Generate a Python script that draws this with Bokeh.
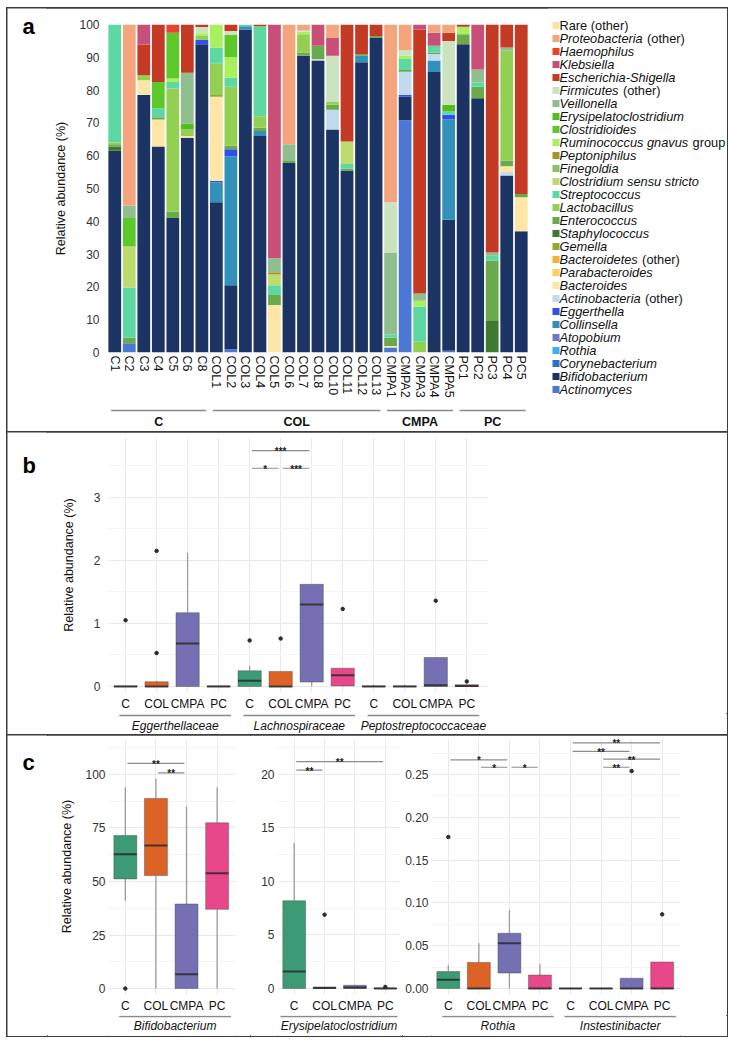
from bokeh.plotting import figure
from bokeh.models import ColumnDataSource, Range1d, FixedTicker, NumeralTickFormatter, Spacer
from bokeh.layouts import row, column
from bokeh.core.properties import value
from bokeh.embed import file_html
from bokeh.resources import INLINE

FONT = "Liberation Sans"
TXT = "#111111"

# ---------------- panel a data ----------------
samples = ["C1", "C2", "C3", "C4", "C5", "C6", "C8",
           "COL1", "COL2", "COL3", "COL4", "COL5", "COL6", "COL7", "COL8", "COL10", "COL11", "COL12", "COL13",
           "CMPA1", "CMPA2", "CMPA3", "CMPA4", "CMPA5",
           "PC1", "PC2", "PC3", "PC4", "PC5"]
sample_group = ["C"] * 7 + ["COL"] * 12 + ["CMPA"] * 5 + ["PC"] * 5
groups = ["C", "COL", "CMPA", "PC"]

taxa = ["Rare (other)", "Proteobacteria (other)", "Haemophilus", "Klebsiella", "Escherichia-Shigella",
        "Firmicutes (other)", "Veillonella", "Erysipelatoclostridium", "Clostridioides",
        "Ruminococcus gnavus group", "Peptoniphilus", "Finegoldia", "Clostridium sensu stricto",
        "Streptococcus", "Lactobacillus", "Enterococcus", "Staphylococcus", "Gemella",
        "Bacteroidetes (other)", "Parabacteroides", "Bacteroides", "Actinobacteria (other)",
        "Eggerthella", "Collinsella", "Atopobium", "Rothia", "Corynebacterium",
        "Bifidobacterium", "Actinomyces"]
taxa_colors = ["#FCE49A", "#F4A57E", "#E8432D", "#C94F78", "#C43A24",
               "#CCE3BF", "#8FBF8F", "#52BE1E", "#5CC82A",
               "#A9F05F", "#A99327", "#8CBE6E", "#BEDC6E",
               "#5ED8A2", "#93CF52", "#6BAA4B", "#3F7A33", "#93AA2C",
               "#F3B235", "#F8D05E", "#FEE7A6", "#C2DAEE",
               "#3050EE", "#3390B8", "#6C78CF", "#3CAEEB", "#2A72BF",
               "#1C3464", "#4A78D4"]

composition = {
    "C1": {"Bifidobacterium": 61.5, "Staphylococcus": 1.2, "Enterococcus": 0.8, "Lactobacillus": 0.5, "Streptococcus": 36.0},
    "C2": {"Actinomyces": 2.8, "Enterococcus": 1.7, "Streptococcus": 15.3, "Clostridium sensu stricto": 12.5, "Clostridioides": 8.7, "Veillonella": 3.8, "Proteobacteria (other)": 55.2},
    "C3": {"Bifidobacterium": 78.5, "Bacteroides": 4.5, "Lactobacillus": 1.5, "Escherichia-Shigella": 9.4, "Klebsiella": 6.1},
    "C4": {"Bifidobacterium": 62.8, "Bacteroides": 8.2, "Enterococcus": 0.7, "Streptococcus": 2.8, "Clostridioides": 8.0, "Escherichia-Shigella": 17.5},
    "C5": {"Bifidobacterium": 41.0, "Enterococcus": 2.0, "Lactobacillus": 37.5, "Streptococcus": 2.0, "Ruminococcus gnavus group": 1.0, "Clostridioides": 14.0, "Haemophilus": 2.5},
    "C6": {"Bifidobacterium": 65.5, "Bacteroides": 0.5, "Lactobacillus": 2.0, "Erysipelatoclostridium": 1.8, "Veillonella": 15.5, "Escherichia-Shigella": 14.7},
    "C8": {"Bifidobacterium": 94.0, "Eggerthella": 1.3, "Lactobacillus": 1.2, "Ruminococcus gnavus group": 0.8, "Firmicutes (other)": 1.9, "Escherichia-Shigella": 0.8},
    "COL1": {"Bifidobacterium": 45.8, "Collinsella": 6.0, "Eggerthella": 0.5, "Bacteroides": 25.7, "Gemella": 0.5, "Lactobacillus": 9.5, "Streptococcus": 5.0, "Ruminococcus gnavus group": 7.0},
    "COL2": {"Actinomyces": 1.0, "Bifidobacterium": 19.5, "Collinsella": 39.3, "Eggerthella": 2.2, "Enterococcus": 1.0, "Lactobacillus": 18.0, "Streptococcus": 2.8, "Ruminococcus gnavus group": 6.2, "Clostridioides": 6.8, "Firmicutes (other)": 1.2, "Escherichia-Shigella": 2.0},
    "COL3": {"Bifidobacterium": 98.5, "Collinsella": 1.0, "Streptococcus": 0.5},
    "COL4": {"Bifidobacterium": 66.0, "Collinsella": 1.5, "Enterococcus": 1.0, "Lactobacillus": 3.5, "Streptococcus": 27.5, "Escherichia-Shigella": 0.5},
    "COL5": {"Bacteroides": 14.5, "Enterococcus": 3.0, "Streptococcus": 3.0, "Clostridium sensu stricto": 3.3, "Peptoniphilus": 0.7, "Veillonella": 4.2, "Klebsiella": 71.3},
    "COL6": {"Bifidobacterium": 57.8, "Enterococcus": 0.6, "Veillonella": 5.1, "Proteobacteria (other)": 36.5},
    "COL7": {"Bifidobacterium": 90.5, "Enterococcus": 1.0, "Lactobacillus": 5.5, "Ruminococcus gnavus group": 0.8, "Firmicutes (other)": 0.4, "Proteobacteria (other)": 1.8},
    "COL8": {"Bifidobacterium": 89.0, "Actinobacteria (other)": 0.5, "Enterococcus": 4.0, "Klebsiella": 6.5},
    "COL10": {"Bifidobacterium": 68.0, "Actinobacteria (other)": 6.0, "Enterococcus": 1.5, "Lactobacillus": 1.0, "Firmicutes (other)": 14.0, "Klebsiella": 5.5, "Proteobacteria (other)": 4.0},
    "COL11": {"Bifidobacterium": 55.5, "Enterococcus": 0.5, "Streptococcus": 1.5, "Clostridium sensu stricto": 6.8, "Escherichia-Shigella": 35.7},
    "COL12": {"Bifidobacterium": 88.5, "Collinsella": 2.0, "Enterococcus": 0.5, "Escherichia-Shigella": 9.0},
    "COL13": {"Bifidobacterium": 96.0, "Enterococcus": 0.5, "Escherichia-Shigella": 3.5},
    "CMPA1": {"Actinomyces": 1.5, "Bacteroides": 0.5, "Enterococcus": 2.5, "Streptococcus": 1.0, "Veillonella": 25.0, "Firmicutes (other)": 15.3, "Proteobacteria (other)": 54.2},
    "CMPA2": {"Actinomyces": 70.8, "Bifidobacterium": 7.2, "Eggerthella": 0.5, "Actinobacteria (other)": 7.1, "Enterococcus": 0.5, "Streptococcus": 3.4, "Ruminococcus gnavus group": 1.0, "Firmicutes (other)": 1.7, "Proteobacteria (other)": 7.8},
    "CMPA3": {"Lactobacillus": 3.3, "Streptococcus": 10.7, "Ruminococcus gnavus group": 1.8, "Veillonella": 2.2, "Escherichia-Shigella": 80.5, "Klebsiella": 1.5},
    "CMPA4": {"Bifidobacterium": 85.5, "Collinsella": 3.5, "Actinobacteria (other)": 2.0, "Enterococcus": 0.5, "Streptococcus": 2.0, "Klebsiella": 4.0, "Proteobacteria (other)": 2.5},
    "CMPA5": {"Actinomyces": 0.5, "Bifidobacterium": 40.0, "Collinsella": 30.5, "Eggerthella": 1.5, "Streptococcus": 1.0, "Erysipelatoclostridium": 2.0, "Firmicutes (other)": 19.5, "Escherichia-Shigella": 2.5, "Proteobacteria (other)": 2.5},
    "PC1": {"Bifidobacterium": 94.0, "Enterococcus": 3.0, "Ruminococcus gnavus group": 2.3, "Escherichia-Shigella": 0.7},
    "PC2": {"Bifidobacterium": 77.5, "Enterococcus": 3.5, "Streptococcus": 1.3, "Veillonella": 4.0, "Klebsiella": 13.7},
    "PC3": {"Staphylococcus": 9.8, "Enterococcus": 18.2, "Streptococcus": 1.5, "Veillonella": 1.0, "Escherichia-Shigella": 69.5},
    "PC4": {"Bifidobacterium": 54.0, "Actinobacteria (other)": 1.0, "Bacteroides": 1.8, "Enterococcus": 1.7, "Lactobacillus": 33.5, "Veillonella": 1.0, "Escherichia-Shigella": 7.0},
    "PC5": {"Bifidobacterium": 37.0, "Bacteroides": 10.3, "Enterococcus": 1.0, "Escherichia-Shigella": 51.7},
}

# ---------------- box plot data ----------------
box_colors = {"C": "#3C9B74", "COL": "#DC6226", "CMPA": "#7570B3", "PC": "#E8488A"}

b_taxa = ["Eggerthellaceae", "Lachnospiraceae", "Peptostreptococcaceae"]
b_low = [0, 0, 0, 0, 0, 0, 0, 0, 0, 0, 0, 0]
b_q1 = [0, 0, 0, 0, 0, 0, 0.07, 0.01, 0, 0, 0, 0]
b_median = [0, 0, 0.68, 0, 0.09, 0, 1.30, 0.18, 0, 0, 0.02, 0.01]
b_q3 = [0.01, 0.075, 1.17, 0.01, 0.25, 0.24, 1.62, 0.29, 0.01, 0.01, 0.46, 0.03]
b_high = [0.01, 0.09, 2.12, 0.01, 0.33, 0.24, 1.62, 0.29, 0.03, 0.03, 0.46, 0.03]
b_out_pos = [1, 2, 2, 5, 6, 8, 11, 12]
b_out_val = [1.05, 0.53, 2.15, 0.73, 0.76, 1.23, 1.36, 0.08]
b_sig_from = [5, 5, 6]
b_sig_to = [7, 6, 7]
b_sig_y = [3.74, 3.46, 3.46]
b_sig_text = ["***", "*", "***"]

c1_taxa = ["Bifidobacterium"]
c1_low = [41, 0, 0, 0]
c1_q1 = [51.2, 52.8, 0, 37.0]
c1_median = [62.7, 66.8, 6.7, 53.8]
c1_q3 = [71.5, 88.8, 39.5, 77.4]
c1_high = [94, 98, 85, 94]
c1_out_pos = [1]
c1_out_val = [0]
c1_sig_from = [1, 2]
c1_sig_to = [3, 3]
c1_sig_y = [105.2, 100.8]
c1_sig_text = ["**", "**"]

c2_taxa = ["Erysipelatoclostridium"]
c2_low = [0, 0, 0, 0]
c2_q1 = [0, 0, 0, 0]
c2_median = [1.6, 0.05, 0.1, 0]
c2_q3 = [8.2, 0.15, 0.3, 0.05]
c2_high = [13.6, 0.15, 0.35, 0.05]
c2_out_pos = [2, 4]
c2_out_val = [6.9, 0.15]
c2_sig_from = [1, 1]
c2_sig_to = [4, 2]
c2_sig_y = [21.2, 20.4]
c2_sig_text = ["**", "**"]

c3_taxa = ["Rothia", "Instestinibacter"]
c3_low = [0, 0, 0, 0, 0, 0, 0, 0]
c3_q1 = [0, 0, 0.018, 0, 0, 0, 0, 0]
c3_median = [0.0102, 0, 0.053, 0, 0, 0, 0, 0]
c3_q3 = [0.0198, 0.0305, 0.0645, 0.0157, 0.0004, 0.0004, 0.012, 0.031]
c3_high = [0.0275, 0.053, 0.092, 0.029, 0.0004, 0.0004, 0.012, 0.031]
c3_out_pos = [1, 7, 8]
c3_out_val = [0.177, 0.254, 0.0866]
c3_sig_from = [1, 2, 3, 5, 5, 6, 6]
c3_sig_to = [3, 3, 4, 8, 7, 8, 7]
c3_sig_y = [0.267, 0.2585, 0.2585, 0.287, 0.277, 0.268, 0.2585]
c3_sig_text = ["*", "*", "*", "**", "**", "**", "**"]

panel_letters = ["a", "b", "c"]

# ---------------- helpers ----------------
W = {'a': 556, 'b': 556, 'c': 500, 'd': 556, 'e': 556, 'f': 278, 'g': 556, 'h': 556, 'i': 222, 'j': 222,
     'k': 500, 'l': 222, 'm': 833, 'n': 556, 'o': 556, 'p': 556, 'q': 556, 'r': 333, 's': 500, 't': 278,
     'u': 556, 'v': 500, 'w': 722, 'x': 500, 'y': 500, 'z': 500, 'A': 667, 'B': 667, 'C': 722, 'D': 722,
     'E': 667, 'F': 611, 'G': 778, 'H': 722, 'I': 278, 'K': 667, 'L': 556, 'M': 833, 'N': 722, 'O': 778,
     'P': 667, 'R': 722, 'S': 667, 'T': 611, 'U': 722, 'V': 667, 'W': 944, ' ': 278, '(': 333, ')': 333, '-': 333}


def text_width(s, size):
    return sum(W.get(ch, 556) for ch in s) * size / 1000.0


def bare(p):
    p.outline_line_color = None
    p.background_fill_color = "white"
    p.border_fill_color = "white"
    p.grid.visible = False


def style_axes(p, tick_size="12px", tick_color="#333333"):
    for ax in p.axis:
        ax.axis_line_color = None
        ax.major_tick_line_color = None
        ax.minor_tick_line_color = None
        ax.major_tick_out = 0
        ax.major_tick_in = 0
        ax.minor_tick_out = 0
        ax.minor_tick_in = 0
        ax.major_label_text_font = FONT
        ax.major_label_text_font_size = tick_size
        ax.major_label_text_color = tick_color
        ax.axis_label_text_font = FONT
        ax.axis_label_text_font_size = "12.5px"
        ax.axis_label_text_font_style = "normal"
        ax.axis_label_text_color = TXT


def letter_fig(height, letter, baseline):
    f = figure(width=40, height=height, x_range=Range1d(0, 40), y_range=Range1d(height, 0),
               x_axis_location=None, y_axis_location=None, output_backend="svg", toolbar_location=None,
               min_border_left=0, min_border_right=0, min_border_top=0, min_border_bottom=0)
    bare(f)
    f.text(x=[15], y=[baseline], text=[letter], text_font=value(FONT), text_font_size="22px",
           text_font_style="bold", text_align="left", text_baseline="alphabetic", text_color="#000000")
    return f


def box_panel(width, height, x_end, y_start, y_end, ticks, minor, mbl, mbr, mbt, mbb,
              low, q1, med, q3, high, out_pos, out_val, sig_from, sig_to, sig_y, sig_text,
              ytitle=None, fmt=None, label_standoff=3, title_standoff=8):
    n = len(q3)
    pos = list(range(1, n + 1))
    grp = [groups[i % 4] for i in range(n)]
    p = figure(width=width, height=height, x_range=Range1d(0.45, x_end), y_range=Range1d(y_start, y_end),
               output_backend="svg", toolbar_location=None,
               min_border_left=mbl, min_border_right=mbr, min_border_top=mbt, min_border_bottom=mbb)
    p.outline_line_color = None
    p.background_fill_color = "white"
    p.xaxis.ticker = FixedTicker(ticks=pos)
    p.xaxis.major_label_overrides = {pos[i]: grp[i] for i in range(n)}
    p.yaxis.ticker = FixedTicker(ticks=ticks, minor_ticks=minor)
    if fmt:
        p.yaxis.formatter = NumeralTickFormatter(format=fmt)
    style_axes(p)
    p.xaxis.major_label_text_font_size = "12px"
    p.xaxis.major_label_text_color = TXT
    p.xaxis.major_label_standoff = 4
    p.yaxis.major_label_standoff = label_standoff
    if ytitle:
        p.yaxis.axis_label = ytitle
        p.yaxis.axis_label_standoff = title_standoff
    p.xgrid.grid_line_color = "#E9E9E9"
    p.ygrid.grid_line_color = "#E9E9E9"
    p.ygrid.minor_grid_line_color = "#F4F4F4"
    half = 0.375
    src = ColumnDataSource(dict(x=pos, low=low, q1=q1, med=med, q3=q3, high=high,
                                l=[x - half for x in pos], r=[x + half for x in pos],
                                color=[box_colors[g] for g in grp]))
    p.segment(x0="x", y0="q3", x1="x", y1="high", source=src, line_color="#9C9C9C", line_width=1.3)
    p.segment(x0="x", y0="low", x1="x", y1="q1", source=src, line_color="#9C9C9C", line_width=1.3)
    p.vbar(x="x", bottom="q1", top="q3", width=2 * half, source=src, fill_color="color",
           line_color="#4a4a4a", line_alpha=0.55, line_width=0.8)
    p.segment(x0="l", y0="med", x1="r", y1="med", source=src, line_color="#2a2a2a",
              line_alpha=0.85, line_width=2)
    p.scatter(x=out_pos, y=out_val, size=3.5, color="#2b2b2b")
    shrink = 0.07
    p.segment(x0=[a + shrink for a in sig_from], x1=[b - shrink for b in sig_to], y0=sig_y, y1=sig_y,
              line_color="#8C8C8C", line_width=1.2)
    p.text(x=[(a + b) / 2 for a, b in zip(sig_from, sig_to)], y=sig_y, text=sig_text,
           text_font=value(FONT), text_font_size="10px", text_font_style="bold",
           text_align="center", text_baseline="alphabetic", y_offset=1, text_color="#222222")
    return p


def strip(width, height, x_range, mbl, mbr, names, starts, ends, line_y, text_y, italic=True, bold=False,
          size="12px"):
    s = figure(width=width, height=height, x_range=x_range, y_range=Range1d(height, 0),
               x_axis_location=None, y_axis_location=None, output_backend="svg", toolbar_location=None,
               min_border_left=mbl, min_border_right=mbr, min_border_top=0, min_border_bottom=0)
    bare(s)
    k = len(names)
    s.segment(x0=starts, x1=ends, y0=[line_y] * k, y1=[line_y] * k, line_color="#8A8A8A", line_width=1.3)
    style = "bold" if bold else ("italic" if italic else "normal")
    s.text(x=[(a + b) / 2 for a, b in zip(starts, ends)], y=[text_y] * k, text=names,
           text_font=value(FONT), text_font_size=size, text_font_style=style,
           text_align="center", text_baseline="middle", text_color=TXT)
    return s


# ---------------- panel a ----------------
xs = list(range(len(samples)))
data = {"x": xs}
for t in taxa:
    data[t] = [composition[s].get(t, 0.0) for s in samples]
src_a = ColumnDataSource(data)

pa = figure(width=500, height=392, x_range=Range1d(-0.5, len(samples) - 0.5), y_range=Range1d(0, 100),
            output_backend="svg", toolbar_location=None,
            min_border_left=60, min_border_right=19, min_border_top=16, min_border_bottom=45)
bare(pa)
pa.vbar_stack(list(reversed(taxa)), x="x", width=0.88, color=list(reversed(taxa_colors)),
              source=src_a, line_color=None)
pa.xaxis.ticker = FixedTicker(ticks=xs)
pa.xaxis.major_label_overrides = {i: s for i, s in enumerate(samples)}
pa.xaxis.major_label_orientation = "vertical"
pa.yaxis.ticker = FixedTicker(ticks=list(range(0, 101, 10)))
style_axes(pa)
pa.xaxis.major_label_text_color = TXT
pa.xaxis.major_label_text_font_size = "12.5px"
pa.xaxis.major_label_standoff = 3
pa.yaxis.major_label_standoff = 8
pa.yaxis.axis_label = "Relative abundance (%)"
pa.yaxis.axis_label_standoff = 8

g_first = [sample_group.index(g) for g in groups]
g_last = [len(sample_group) - 1 - sample_group[::-1].index(g) for g in groups]
pa_strip = strip(500, 32, pa.x_range, 60, 19, groups,
                 [f - 0.25 for f in g_first], [l + 0.3 for l in g_last], 10, 21, italic=False, bold=True,
                 size="12.5px")

# legend figure
leg = figure(width=180, height=424, x_range=Range1d(0, 180), y_range=Range1d(424, 0),
             x_axis_location=None, y_axis_location=None, output_backend="svg", toolbar_location=None,
             min_border_left=0, min_border_right=0, min_border_top=0, min_border_bottom=0)
bare(leg)
LEG_FS = 12.8
ital_parts, plain_parts = [], []
for t in taxa:
    if t == "Rare (other)":
        ital_parts.append("")
        plain_parts.append(t)
    elif t.endswith(" (other)"):
        ital_parts.append(t[:-8])
        plain_parts.append("(other)")
    elif t.endswith(" group"):
        ital_parts.append(t[:-6])
        plain_parts.append("group")
    else:
        ital_parts.append(t)
        plain_parts.append("")
ly = [17 + 13 * i for i in range(len(taxa))]
tx0 = 12
leg.scatter(x=[8.5] * len(taxa), y=ly, marker="square", size=7, color=taxa_colors, line_color=None)
leg.text(x=[tx0] * len(taxa), y=ly, text=ital_parts, text_font=value(FONT),
         text_font_size=f"{LEG_FS}px", text_font_style="italic", text_baseline="middle",
         text_align="left", text_color=TXT)
leg.text(x=[tx0 + (text_width(s + " ", LEG_FS) + 0.8 if s else 0) for s in ital_parts], y=ly,
         text=plain_parts, text_font=value(FONT), text_font_size=f"{LEG_FS}px", text_font_style="normal",
         text_baseline="middle", text_align="left", text_color=TXT)

# ---------------- panel b ----------------
pb = box_panel(680, 281, 12.7, -0.0947, 3.947, [0, 1, 2, 3], [0.5, 1.5, 2.5, 3.5], 61, 239, 5, 20,
               b_low, b_q1, b_median, b_q3, b_high, b_out_pos, b_out_val,
               b_sig_from, b_sig_to, b_sig_y, b_sig_text,
               ytitle="Relative abundance (%)", label_standoff=8, title_standoff=15)
b_first = [1 + 4 * i for i in range(len(b_taxa))]
pb_strip = strip(680, 22, pb.x_range, 61, 239, b_taxa,
                 [f - 0.2 for f in b_first], [f + 3 + 0.4 for f in b_first], 2, 12)

# ---------------- panel c ----------------
pc1 = box_panel(203, 280, 4.6, -2.80, 116.82, [0, 25, 50, 75, 100], [12.5, 37.5, 62.5, 87.5, 112.5],
                61, 15, 3, 21,
                c1_low, c1_q1, c1_median, c1_q3, c1_high, c1_out_pos, c1_out_val,
                c1_sig_from, c1_sig_to, c1_sig_y, c1_sig_text,
                ytitle="Relative abundance (%)", label_standoff=3, title_standoff=8)
pc2 = box_panel(152, 280, 4.5, -0.561, 23.364, [0, 5, 10, 15, 20], [2.5, 7.5, 12.5, 17.5, 22.5],
                27, 2, 3, 21,
                c2_low, c2_q1, c2_median, c2_q3, c2_high, c2_out_pos, c2_out_val,
                c2_sig_from, c2_sig_to, c2_sig_y, c2_sig_text, label_standoff=3)
pc3 = box_panel(325, 280, 8.6, -0.00701, 0.29206, [0, 0.05, 0.10, 0.15, 0.20, 0.25],
                [0.025, 0.075, 0.125, 0.175, 0.225, 0.275], 29, 47, 3, 21,
                c3_low, c3_q1, c3_median, c3_q3, c3_high, c3_out_pos, c3_out_val,
                c3_sig_from, c3_sig_to, c3_sig_y, c3_sig_text, fmt="0.00", label_standoff=3)

s1 = strip(203, 21, pc1.x_range, 61, 15, c1_taxa, [0.8], [4.45], 1, 10)
s2 = strip(152, 21, pc2.x_range, 27, 2, c2_taxa, [0.55], [4.4], 1, 10)
c3_first = [1 + 4 * i for i in range(len(c3_taxa))]
s3 = strip(325, 21, pc3.x_range, 29, 47, c3_taxa,
           [f - 0.2 for f in c3_first], [f + 3 + 0.45 for f in c3_first], 1, 10)

# ---------------- layout ----------------
panel_a = row(letter_fig(424, panel_letters[0], 18), column(pa, pa_strip), leg)
panel_b = row(letter_fig(303, panel_letters[1], 33), column(pb, pb_strip))
panel_c = row(letter_fig(301, panel_letters[2], 27), column(pc1, s1), column(pc2, s2), column(pc3, s3))
border = {"outline": "2px solid #3d3d3d", "outline-offset": "-1px"}
for pan in (panel_a, panel_b, panel_c):
    pan.styles = border
body = column(panel_a, panel_b, panel_c)
layout = column(Spacer(width=727, height=8), row(Spacer(width=7, height=1028), body))

open("out.html", "w").write(file_html(layout, INLINE, title="Relative abundance"))
